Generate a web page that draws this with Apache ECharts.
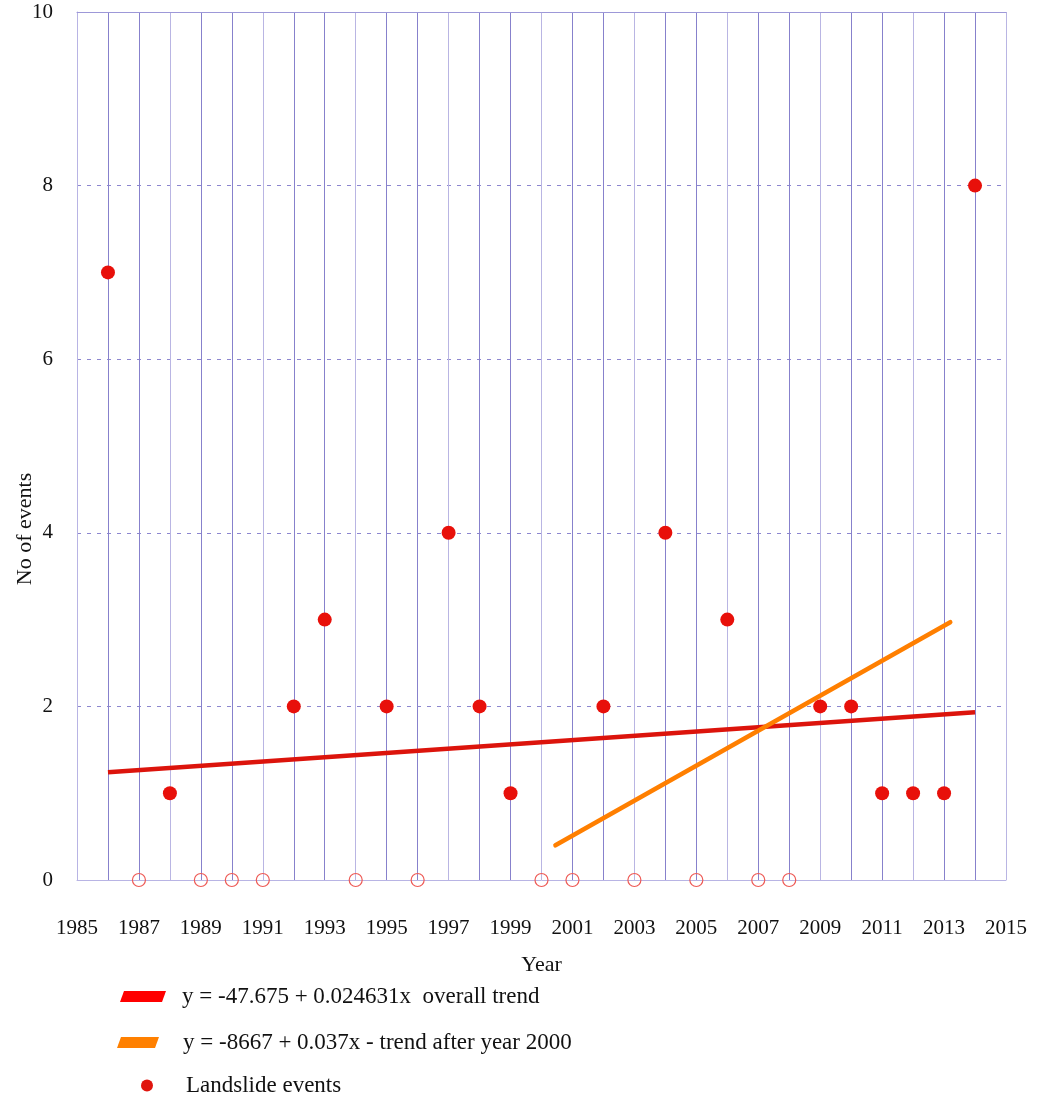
<!DOCTYPE html>
<html>
<head>
<meta charset="utf-8">
<script src="https://cdn.jsdelivr.net/npm/echarts@6/dist/echarts.min.js"></script>
<style>html,body{margin:0;padding:0;background:#fff}#c{width:1037px;height:1098px}</style>
</head>
<body>
<div id="c"></div>
<script>
const years = [1986,1987,1988,1989,1990,1991,1992,1993,1994,1995,1996,1997,1998,1999,2000,2001,2002,2003,2004,2005,2006,2007,2008,2009,2010,2011,2012,2013,2014];
const events = [7,0,1,0,0,0,2,3,0,2,0,4,2,1,0,0,2,0,4,0,3,0,0,2,2,1,1,1,8];
const overallTrend = [[1986,1.242],[2014,1.932]];
const trendAfter2000 = [[2000.45,0.40],[2013.2,2.97]];
const xTickLabels = ['1985','1987','1989','1991','1993','1995','1997','1999','2001','2003','2005','2007','2009','2011','2013','2015'];
const yTickLabels = ['0','2','4','6','8','10'];
const seriesNames = ['y = -47.675 + 0.024631x  overall trend','y = -8667 + 0.037x - trend after year 2000','Landslide events'];

const filled = [], hollow = [];
years.forEach((y,i)=>{ (events[i]>0?filled:hollow).push([y,events[i]]); });

const font = 'Liberation Serif';
const gridColors = ['#b9b5e3','#8781cc','#8781cc'];
const chart = echarts.init(document.getElementById('c'));
const legendBase = {orient:'vertical', padding:0, selectedMode:false};
chart.setOption({
  animation:false,
  grid:{left:77,right:31,top:12,bottom:218,containLabel:false,outerBoundsMode:'none'},
  xAxis:[{
    type:'value',min:1985,max:2015,interval:1,
    name:'Year',nameLocation:'middle',nameGap:74,nameMoveOverlap:false,
    nameTextStyle:{fontFamily:font,fontSize:22,color:'#111'},
    axisLine:{show:true,lineStyle:{color:'#b8b4e4'}},
    axisTick:{show:false},
    axisLabel:{margin:38,fontFamily:font,fontSize:21,color:'#111',
      formatter:v=>xTickLabels.indexOf(String(v))>=0?String(v):''},
    splitLine:{show:true,lineStyle:{color:gridColors,width:1}}
  },{
    type:'value',min:1985,max:2015,position:'top',
    axisLine:{show:true,lineStyle:{color:'#9d98d8'}},
    axisTick:{show:false},axisLabel:{show:false},splitLine:{show:false}
  }],
  yAxis:{
    type:'value',min:0,max:10,interval:2,
    name:'No of events',nameLocation:'middle',nameGap:41,nameMoveOverlap:false,
    nameTextStyle:{fontFamily:font,fontSize:22,color:'#111',padding:[0,166,0,0]},
    axisLine:{show:true,lineStyle:{color:'#b8b4e4'}},
    axisTick:{show:false},
    axisLabel:{margin:24,fontFamily:font,fontSize:21,color:'#111',
      formatter:v=>yTickLabels.indexOf(String(v))>=0?String(v):''},
    splitLine:{show:true,lineStyle:{color:'#8d87cf',type:[4,6],width:1}}
  },
  legend:[
    Object.assign({},legendBase,{left:120,top:985,itemWidth:46,itemHeight:11,
      textStyle:{fontFamily:font,fontSize:23,color:'#111',padding:[0,0,0,11]},
      data:[{name:seriesNames[0],icon:'path://M4,0 L46,0 L42,11 L0,11 Z',itemStyle:{color:'#ff0000'}}]}),
    Object.assign({},legendBase,{left:117,top:1031,itemWidth:42,itemHeight:11,
      textStyle:{fontFamily:font,fontSize:23,color:'#111',padding:[0,0,0,19]},
      data:[{name:seriesNames[1],icon:'path://M4,0 L42,0 L38,11 L0,11 Z',itemStyle:{color:'#ff8000'}}]}),
    Object.assign({},legendBase,{left:141,top:1074,itemWidth:12,itemHeight:12,
      textStyle:{fontFamily:font,fontSize:23,color:'#111',padding:[0,0,0,28]},
      data:[{name:seriesNames[2],icon:'circle',itemStyle:{color:'#e0150e'}}]})
  ],
  series:[
    {name:seriesNames[0],type:'line',data:overallTrend,symbol:'none',
     lineStyle:{color:'#dc140c',width:4.5},itemStyle:{color:'#ff0000'},z:3},
    {name:seriesNames[1],type:'line',data:trendAfter2000,symbol:'none',
     lineStyle:{color:'#ff7f00',width:4.5,cap:'round'},itemStyle:{color:'#ff8000'},z:3},
    {name:seriesNames[2],type:'scatter',data:filled,symbol:'circle',symbolSize:14,
     itemStyle:{color:'#e8100a',opacity:1},z:4},
    {name:'zero',type:'scatter',data:hollow,symbol:'circle',symbolSize:13,
     itemStyle:{color:'rgba(255,255,255,0)',borderColor:'#ee5a55',borderWidth:1.2,opacity:1},z:4}
  ]
});
</script>
</body>
</html>
